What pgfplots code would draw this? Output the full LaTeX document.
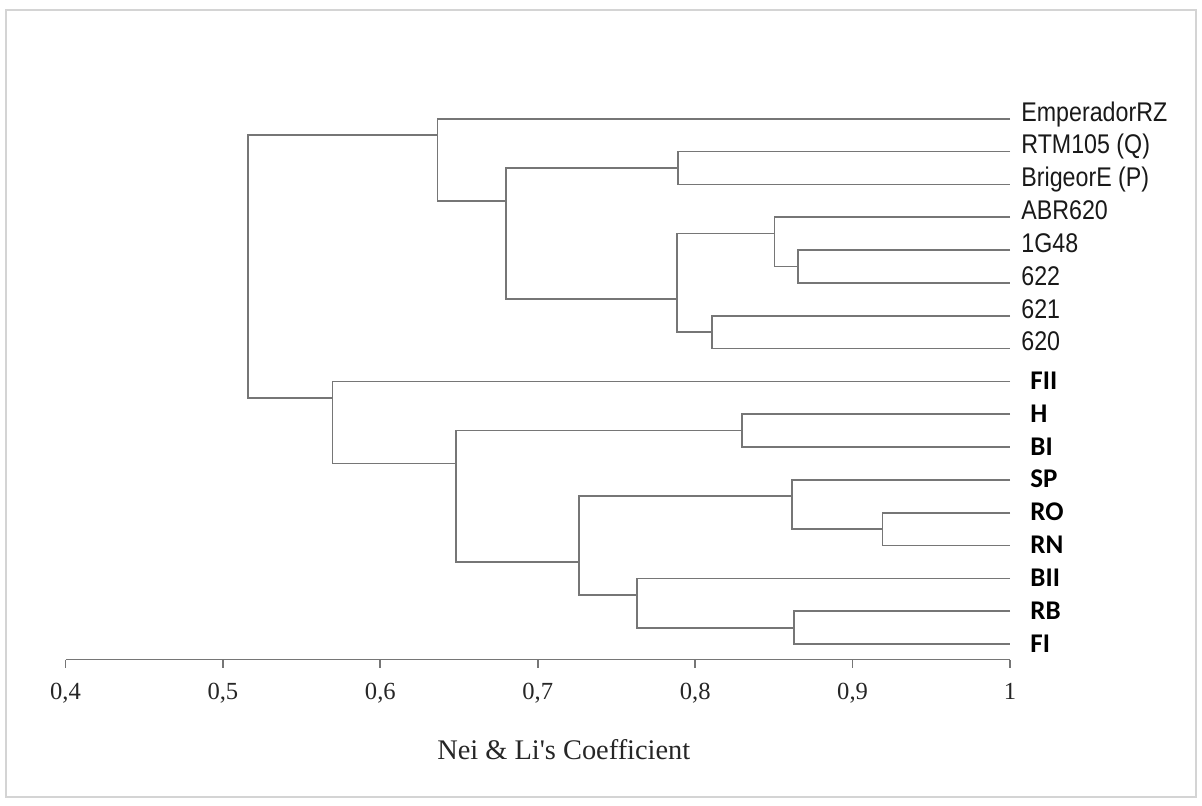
\documentclass[border=0pt]{standalone}
\usepackage{pgfplots}
\pgfplotsset{compat=1.18}
\usepackage{fontspec}
\setmainfont{Liberation Serif}
\newfontfamily\arialf{Liberation Sans}
\newfontfamily\calib{Carlito}
\definecolor{dg}{RGB}{118,118,118}
\definecolor{framec}{RGB}{212,212,212}
\newcommand{\up}[1]{\scalebox{0.86}[1]{\arialf\fontsize{13.5bp}{15bp}\selectfont #1}}
\newcommand{\lo}[1]{{\calib\bfseries\fontsize{13.5bp}{15bp}\selectfont #1}}
\newcommand{\sq}{{\XeTeXglyph\the\XeTeXcharglyph"0027}}
\pgfplotsset{dend/.style={dg, line width=0.85bp, no markers, line join=miter, forget plot}}
\begin{document}
\begin{tikzpicture}[x=1bp,y=1bp]
\path (0,0) rectangle (601,402.5);
\draw[framec, line width=1.2bp] (3,4) rectangle (598,397.5);
\begin{axis}[
  at={(32.75bp,72.75bp)}, anchor=south west,
  scale only axis, width=472.25bp, height=278.6bp,
  xmin=0.4, xmax=1, ymin=-16.47, ymax=0.5,
  axis x line*=bottom, axis y line=none, ytick=\empty,
  xtick={0.4,0.5,0.6,0.7,0.8,0.9,1},
  xticklabels={{0,4},{0,5},{0,6},{0,7},{0,8},{0,9},{1}},
  xtick align=outside, major tick length=4bp,
  x axis line style={draw=dg, line width=0.85bp, -},
  xtick style={draw=dg, line width=0.85bp},
  xticklabel style={font=\fontsize{12.3bp}{14bp}\selectfont, text=black!85, anchor=base, inner sep=0pt, yshift=-16bp},
  clip=false,
]
% leaf clusters and joins (similarity, leaf row)
\addplot[dend] coordinates {(1,-15) (0.8629,-15) (0.8629,-16) (1,-16)};
\addplot[dend] coordinates {(1,-14) (0.763,-14) (0.763,-15.5) (0.8629,-15.5)};
\addplot[dend] coordinates {(1,-12) (0.919,-12) (0.919,-13) (1,-13)};
\addplot[dend] coordinates {(1,-11) (0.8617,-11) (0.8617,-12.5) (0.919,-12.5)};
\addplot[dend] coordinates {(0.8617,-11.5) (0.7262,-11.5) (0.7262,-14.5) (0.763,-14.5)};
\addplot[dend] coordinates {(1,-9) (0.8298,-9) (0.8298,-10) (1,-10)};
\addplot[dend] coordinates {(0.8298,-9.5) (0.6481,-9.5) (0.6481,-13.5) (0.7262,-13.5)};
\addplot[dend] coordinates {(1,-8) (0.5697,-8) (0.5697,-10.5) (0.6481,-10.5)};
\addplot[dend] coordinates {(1,-6) (0.8108,-6) (0.8108,-7) (1,-7)};
\addplot[dend] coordinates {(1,-4) (0.8651,-4) (0.8651,-5) (1,-5)};
\addplot[dend] coordinates {(1,-3) (0.8503,-3) (0.8503,-4.5) (0.8651,-4.5)};
\addplot[dend] coordinates {(0.8503,-3.5) (0.7885,-3.5) (0.7885,-6.5) (0.8108,-6.5)};
\addplot[dend] coordinates {(1,-1) (0.7893,-1) (0.7893,-2) (1,-2)};
\addplot[dend] coordinates {(0.7893,-1.5) (0.6797,-1.5) (0.6797,-5.5) (0.7885,-5.5)};
\addplot[dend] coordinates {(1,0) (0.6363,0) (0.6363,-2.5) (0.6797,-2.5)};
\addplot[dend] coordinates {(0.6363,-0.5) (0.5161,-0.5) (0.5161,-8.5) (0.5697,-8.5)};
% labels
\begin{scope}[every node/.style={anchor=base west, inner sep=0pt, text=black!90}]
\node[xshift=5.5bp, yshift=-1.2bp] at (axis cs:1,0) {\up{EmperadorRZ}};
\node[xshift=5.5bp, yshift=-1.2bp] at (axis cs:1,-1) {\up{RTM105 (Q)}};
\node[xshift=5.5bp, yshift=-1.2bp] at (axis cs:1,-2) {\up{BrigeorE (P)}};
\node[xshift=5.5bp, yshift=-1.2bp] at (axis cs:1,-3) {\up{ABR620}};
\node[xshift=5.5bp, yshift=-1.2bp] at (axis cs:1,-4) {\up{1G48}};
\node[xshift=5.5bp, yshift=-1.2bp] at (axis cs:1,-5) {\up{622}};
\node[xshift=5.5bp, yshift=-1.2bp] at (axis cs:1,-6) {\up{621}};
\node[xshift=5.5bp, yshift=-1.2bp] at (axis cs:1,-7) {\up{620}};
\node[xshift=10bp, yshift=-4bp, text=black] at (axis cs:1,-8) {\lo{FII}};
\node[xshift=10bp, yshift=-4bp, text=black] at (axis cs:1,-9) {\lo{H}};
\node[xshift=10bp, yshift=-4bp, text=black] at (axis cs:1,-10) {\lo{BI}};
\node[xshift=10bp, yshift=-4bp, text=black] at (axis cs:1,-11) {\lo{SP}};
\node[xshift=10bp, yshift=-4bp, text=black] at (axis cs:1,-12) {\lo{RO}};
\node[xshift=10bp, yshift=-4bp, text=black] at (axis cs:1,-13) {\lo{RN}};
\node[xshift=10bp, yshift=-4bp, text=black] at (axis cs:1,-14) {\lo{BII}};
\node[xshift=10bp, yshift=-4bp, text=black] at (axis cs:1,-15) {\lo{RB}};
\node[xshift=10bp, yshift=-4bp, text=black] at (axis cs:1,-16) {\lo{FI}};
\node[yshift=-49.75bp, font=\fontsize{14.2bp}{16bp}\selectfont, text=black!85] at (axis cs:0.6359,-16.47) {Nei \& Li\sq s Coefficient};
\end{scope}
\end{axis}
\end{tikzpicture}
\end{document}
